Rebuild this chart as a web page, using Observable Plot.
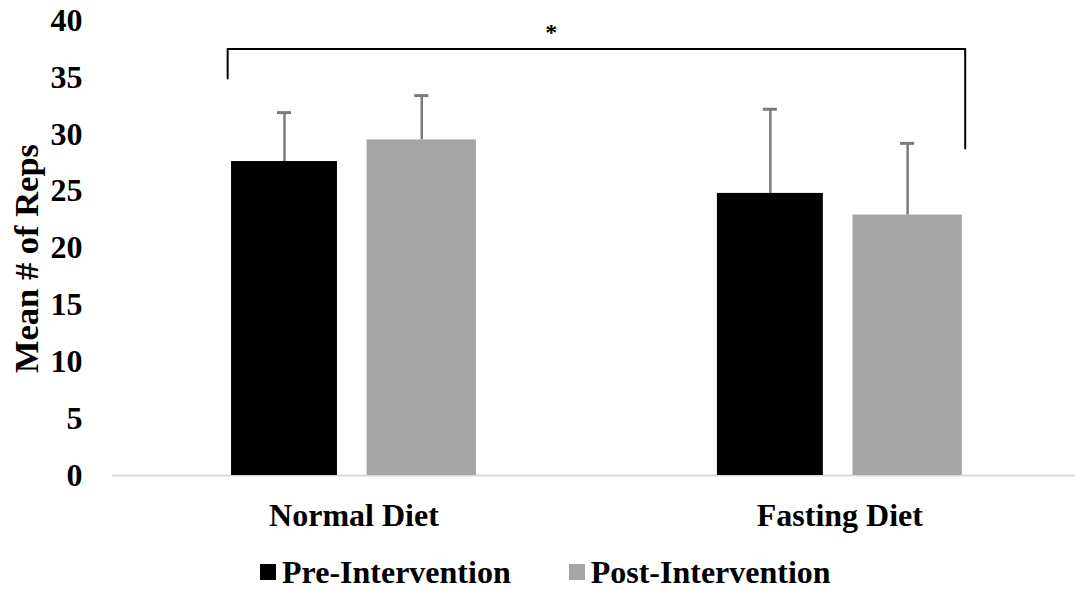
<!DOCTYPE html>
<html>
<head>
<meta charset="utf-8">
<script src="https://cdn.jsdelivr.net/npm/d3@7"></script>
<script src="https://cdn.jsdelivr.net/npm/@observablehq/plot@0.6"></script>
<style>
  html, body { margin: 0; padding: 0; background: #fff; }
  #chart { width: 1076px; }
  .legend { box-sizing: border-box; display: flex; align-items: center; height: 40px; padding-top: 11px; padding-left: 260px;
    font-family: "Liberation Serif", "Times New Roman", serif; font-weight: bold; font-size: 32px; line-height: 28px; color: #000; }
  .legend .item { display: flex; align-items: center; }
  .legend .sw { width: 16px; height: 16px; margin-right: 6px; }
</style>
</head>
<body>
<div id="chart"></div>
<script>
// ---- data ----
const groups = ["Normal Diet", "Fasting Diet"];
const seriesNames = ["Pre-Intervention", "Post-Intervention"];
const seriesColors = ["#000000", "#a5a5a5"];
const preMeans = [27.6, 24.8];
const postMeans = [29.5, 22.9];
const preErr = [4.3, 7.4];
const postErr = [3.9, 6.3];
const yTicks = [0, 5, 10, 15, 20, 25, 30, 35, 40];
const yLabel = "Mean # of Reps";
const sigMark = "*";
// significance bracket: left foot, top, right foot (in y units)
const bracketY = [34.9, 37.5, 28.75];

// ---- layout (within-group placement, in group units) ----
const barSpan = [[-0.252, -0.034], [0.027, 0.252]];
const capHalf = 0.0145;
const bracketX = [-0.26, 1.258];
const sigX = 0.406;

const means = [preMeans, postMeans];
const errs = [preErr, postErr];
const rows = [];
groups.forEach((g, gi) => {
  seriesNames.forEach((s, k) => {
    const m = means[k][gi], e = errs[k][gi];
    const x1 = gi + barSpan[k][0], x2 = gi + barSpan[k][1];
    rows.push({group: g, series: s, mean: m, top: m + e, x1, x2, cx: (x1 + x2) / 2});
  });
});
const bracket = [
  {x: bracketX[0], y: bracketY[0]},
  {x: bracketX[0], y: bracketY[1]},
  {x: bracketX[1], y: bracketY[1]},
  {x: bracketX[1], y: bracketY[2]}
];

const chart = Plot.plot({
  width: 1076,
  height: 546,
  marginLeft: 112,
  marginRight: 1,
  marginTop: 20,
  marginBottom: 71,
  style: {fontFamily: "'Liberation Serif', 'Times New Roman', serif", fontSize: "32px", fontWeight: "bold", color: "#000", background: "#fff"},
  x: {domain: [-0.497, 1.485], ticks: [0, 1], tickFormat: i => groups[i], tickSize: 0, tickPadding: 28, label: null},
  y: {domain: [0, 40], ticks: yTicks, tickSize: 0, tickPadding: 30, label: null},
  color: {domain: seriesNames, range: seriesColors},
  marks: [
    Plot.ruleY([0], {stroke: "#d9d9d9", strokeWidth: 2}),
    Plot.ruleX(rows, {x: "cx", y1: "mean", y2: "top", stroke: "#7a7a7a", strokeWidth: 2.5}),
    Plot.ruleY(rows, {y: "top", x1: d => d.cx - capHalf, x2: d => d.cx + capHalf, stroke: "#7a7a7a", strokeWidth: 3}),
    Plot.rectY(rows, {x1: "x1", x2: "x2", y1: 0, y2: "mean", fill: "series"}),
    Plot.line(bracket, {x: "x", y: "y", stroke: "#000", strokeWidth: 2}),
    Plot.text([sigMark], {text: d => d, x: sigX, y: bracketY[1] + 1.5, fontSize: 24, fontWeight: "bold"}),
    Plot.text([yLabel], {text: d => d, frameAnchor: "left", textAnchor: "middle", dx: -86, dy: 10.5, rotate: -90, fontSize: 34.5, fontWeight: "bold"})
  ]
});
document.getElementById("chart").appendChild(chart);

const legend = document.createElement("div");
legend.className = "legend";
seriesNames.forEach((s, k) => {
  const item = document.createElement("div");
  item.className = "item";
  if (k > 0) item.style.marginLeft = "58px";
  const sw = document.createElement("div");
  sw.className = "sw";
  sw.style.background = seriesColors[k];
  const t = document.createElement("span");
  t.textContent = s;
  item.appendChild(sw);
  item.appendChild(t);
  legend.appendChild(item);
});
document.getElementById("chart").appendChild(legend);
</script>
</body>
</html>
